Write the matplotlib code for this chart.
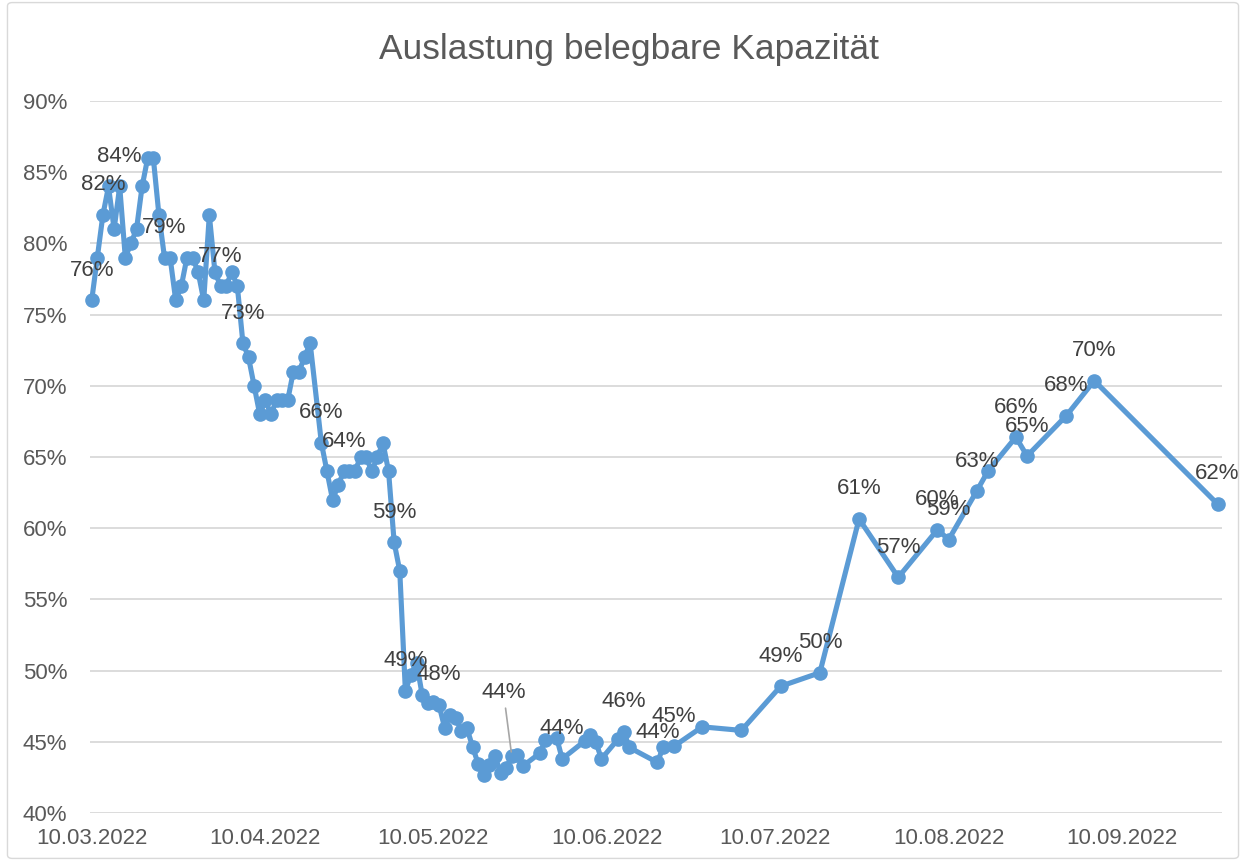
import matplotlib
matplotlib.use("Agg")
import matplotlib.pyplot as plt
import matplotlib.dates as mdates
from matplotlib.patches import FancyBboxPatch
import pandas as pd

# Startdatum der Reihe, Tage danach und Auslastung in Prozent
start = pd.Timestamp("2022-03-10")
tage = list(range(0, 40)) + list(range(41, 56)) + list(range(56, 78)) + [
    80, 81, 83, 84, 88, 89, 90, 91, 94, 95, 96, 101, 102, 104, 109, 116, 123,
    130, 137, 144, 151, 153, 158, 160, 165, 167, 174, 179, 201]
werte = [
    76, 79, 82, 84, 81, 84, 79, 80, 81, 84, 86, 86, 82, 79, 79, 76, 77, 79, 79, 78,
    76, 82, 78, 77, 77, 78, 77, 73, 72, 70, 68, 69, 68, 69, 69, 69, 71, 71, 72, 73,
    66, 64, 62, 63, 64, 64, 64, 65, 65, 64, 65, 66, 64, 59, 57,
    48.6, 49.7, 50.55, 48.3, 47.7, 47.8, 47.6, 46.0, 46.9, 46.7, 45.75, 45.95,
    44.65, 43.45, 42.7, 43.4, 44.0, 42.8, 43.15, 44.0, 44.07, 43.3,
    44.2, 45.1, 45.3, 43.8, 45.05, 45.45, 45.0, 43.8, 45.2, 45.7, 44.6, 43.55,
    44.6, 44.7, 46.05, 45.8, 48.9, 49.85, 60.65, 56.55, 59.9, 59.2, 62.6, 64.0,
    66.4, 65.07, 67.9, 70.36, 61.7]

# Tage mit Datenbeschriftung
beschriftet = [0, 2, 5, 13, 23, 27, 41, 45, 54, 56, 62, 84, 95, 101, 104, 123,
               130, 137, 144, 151, 153, 158, 165, 167, 174, 179, 201]
mit_fuehrungslinie = 75

y_ticks = [40, 45, 50, 55, 60, 65, 70, 75, 80, 85, 90]
x_ticks = ["2022-03-10", "2022-04-10", "2022-05-10", "2022-06-10",
           "2022-07-10", "2022-08-10", "2022-09-10"]

blau = "#5B9BD5"
grau_text = "#595959"
label_farbe = "#404040"

plt.rcParams["font.family"] = ["Liberation Sans", "DejaVu Sans"]

datum = [start + pd.Timedelta(days=t) for t in tage]

fig = plt.figure(figsize=(12.46, 8.61), dpi=100)
ax = fig.add_axes([89.6 / 1246, 1 - 813 / 861, (1222 - 89.6) / 1246, (813 - 101) / 861])

ax.plot(datum, werte, color=blau, lw=3.7, marker="o", markersize=9.5,
        solid_joinstyle="round", zorder=3, clip_on=False)

for t, d, v in zip(tage, datum, werte):
    if t in beschriftet:
        ax.annotate(f"{v:.0f}%", (d, v), xytext=(0, 21.6), textcoords="offset points",
                    ha="center", va="center", fontsize=16, color=label_farbe, zorder=4)
    elif t == mit_fuehrungslinie:
        ax.annotate(f"{v:.0f}%", (d, v), xytext=(-6, 46), textcoords="offset points",
                    ha="center", va="center", fontsize=16, color=label_farbe, zorder=4,
                    arrowprops=dict(arrowstyle="-", color="#A6A6A6", lw=1.2,
                                    shrinkA=2, shrinkB=3))

ax.set_ylim(40, 90)
ax.set_yticks(y_ticks)
ax.set_yticklabels([f"{y}%" for y in y_ticks])
ax.set_xlim(start - pd.Timedelta(days=0.375), start + pd.Timedelta(days=201.8))
ax.set_xticks([pd.Timestamp(x) for x in x_ticks])
ax.xaxis.set_major_formatter(mdates.DateFormatter("%d.%m.%Y"))

ax.grid(axis="y", color="#D9D9D9", lw=1.3)
ax.set_axisbelow(True)
for s in ax.spines.values():
    s.set_visible(False)
ax.tick_params(axis="both", length=0, labelsize=16, colors=grau_text)
ax.tick_params(axis="y", pad=16)
ax.tick_params(axis="x", pad=11)

fig.text(0.5048, 1 - 50 / 861, "Auslastung belegbare Kapazität", ha="center",
         va="center", fontsize=25.5, color=grau_text)

rahmen = FancyBboxPatch((0.006, 0.003), 0.988, 0.994, boxstyle="round,pad=0,rounding_size=0.004",
                        transform=fig.transFigure, fill=False, edgecolor="#D9D9D9", lw=1)
fig.patches.append(rahmen)

fig.savefig("out.png", dpi=100)
